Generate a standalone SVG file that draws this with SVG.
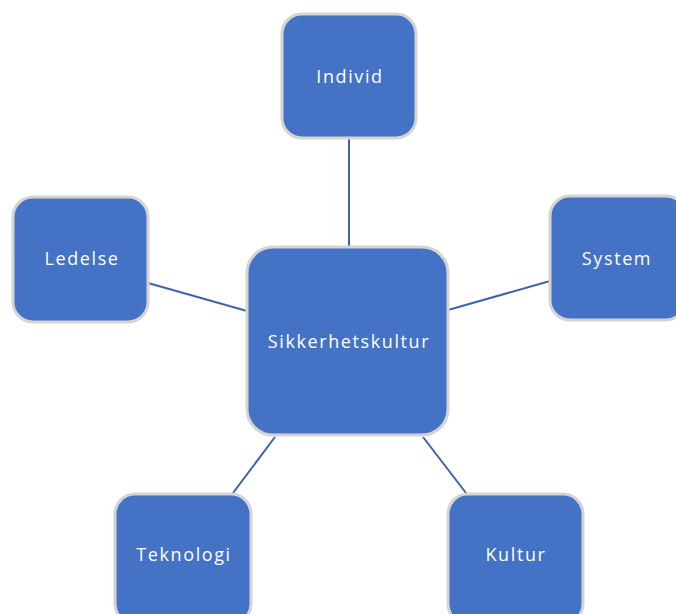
<svg xmlns="http://www.w3.org/2000/svg" width="676" height="614" viewBox="0 0 676 614">
<style>
.box{fill:#4472C4;stroke:#D4D4D4;stroke-width:3}
.lbl{fill:#FFFFFF;font-family:"Open Sans","Liberation Sans",sans-serif;font-size:18px;text-anchor:middle;dominant-baseline:central;letter-spacing:1.6px}
.con{stroke:#3E64A8;stroke-width:2;fill:none}
</style>
<rect width="676" height="614" fill="#FFFFFF"/>
<g id="connectors">
<line class="con" x1="349" y1="139" x2="349" y2="247"/>
<line class="con" x1="148" y1="283" x2="247" y2="311"/>
<line class="con" x1="550" y1="281" x2="448" y2="310"/>
<line class="con" x1="233" y1="493" x2="275" y2="437"/>
<line class="con" x1="466" y1="493" x2="423" y2="437"/>
</g>
<g id="sikkerhetskultur">
<rect class="box" x="247" y="247" width="201" height="188" rx="26"/>
<text class="lbl" x="349" y="341">Sikkerhetskultur</text>
</g>
<g id="individ">
<rect class="box" x="282" y="14" width="134" height="124" rx="20"/>
<text class="lbl" x="350" y="76">Individ</text>
</g>
<g id="ledelse">
<rect class="box" x="13" y="197" width="135" height="125" rx="20"/>
<text class="lbl" x="82" y="258">Ledelse</text>
</g>
<g id="system">
<rect class="box" x="550" y="196" width="136" height="124" rx="20"/>
<text class="lbl" x="617" y="258">System</text>
</g>
<g id="teknologi">
<rect class="box" x="115" y="494" width="136" height="130" rx="20"/>
<text class="lbl" x="184" y="554">Teknologi</text>
</g>
<g id="kultur">
<rect class="box" x="448" y="494" width="135" height="130" rx="20"/>
<text class="lbl" x="516" y="554">Kultur</text>
</g>
</svg>
